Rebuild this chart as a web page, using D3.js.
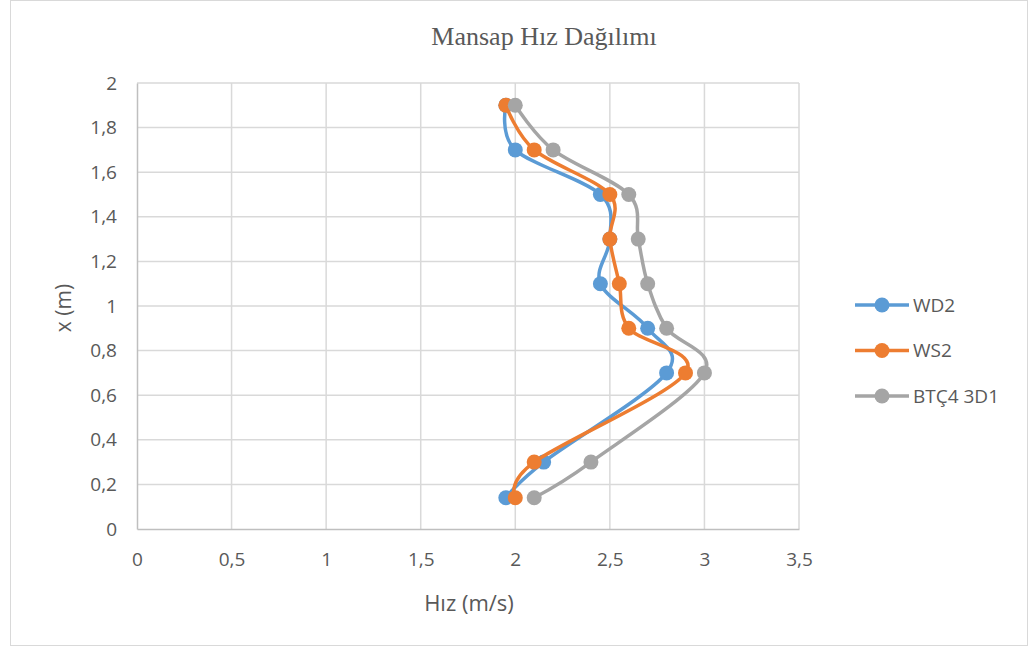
<!DOCTYPE html>
<html>
<head>
<meta charset="utf-8">
<script src="https://cdn.jsdelivr.net/npm/d3@7"></script>
<style>
  body { margin: 0; background: #fff; }
  svg text { fill: #595959; }
</style>
</head>
<body>
<svg class="chart" width="1028" height="647"></svg>
<script>
// values: height x (m) against speed (m/s)
const heights = [1.9, 1.7, 1.5, 1.3, 1.1, 0.9, 0.7, 0.3, 0.14]
const wd2 = [1.95, 2.0, 2.45, 2.5, 2.45, 2.7, 2.8, 2.15, 1.95]
const ws2 = [1.95, 2.1, 2.5, 2.5, 2.55, 2.6, 2.9, 2.1, 2.0]
const btc4 = [2.0, 2.2, 2.6, 2.65, 2.7, 2.8, 3.0, 2.4, 2.1]
const seriesNames = ['WD2', 'WS2', 'BTÇ4 3D1']
const colors = ['#5B9BD5', '#ED7D31', '#A5A5A5']
const xTicks = [0, 0.5, 1, 1.5, 2, 2.5, 3, 3.5]
const yTicks = [0, 0.2, 0.4, 0.6, 0.8, 1, 1.2, 1.4, 1.6, 1.8, 2]

const series = [wd2, ws2, btc4].map((vals, i) => ({
  name: seriesNames[i],
  color: colors[i],
  points: vals.map((v, j) => ({ x: v, y: heights[j] }))
}))

const svg = d3.select('.chart'),
  margin = { top: 83, right: 229, bottom: 118, left: 137 },
  width = 1028 - margin.left - margin.right,
  height = 647 - margin.top - margin.bottom

const fmt = d => String(d).replace('.', ',')

// outer frame
svg.append('rect')
  .attr('x', 10.5).attr('y', 0.5)
  .attr('width', 1017).attr('height', 645)
  .attr('fill', 'none')
  .attr('stroke', '#d9d9d9')

let x = d3.scaleLinear().domain([0, 3.5]).range([0, width]),
  y = d3.scaleLinear().domain([0, 2]).range([height, 0])

let g = svg.append('g')
  .attr('transform', 'translate(' + margin.left + ',' + margin.top + ')')

// grid
g.append('g')
  .selectAll('line')
  .data(yTicks.slice(1))
  .enter().append('line')
  .attr('x1', 0).attr('x2', width)
  .attr('y1', d => y(d)).attr('y2', d => y(d))
  .attr('stroke', '#d9d9d9').attr('stroke-width', 1.5)

g.append('g')
  .selectAll('line')
  .data(xTicks.slice(1))
  .enter().append('line')
  .attr('x1', d => x(d)).attr('x2', d => x(d))
  .attr('y1', 0).attr('y2', height)
  .attr('stroke', '#d9d9d9').attr('stroke-width', 1.5)

// axes
const xAxis = g.append('g')
  .attr('transform', 'translate(0,' + height + ')')
  .call(d3.axisBottom(x).tickValues(xTicks).tickFormat(fmt).tickSize(0).tickPadding(24))
xAxis.select('.domain').attr('stroke', '#bfbfbf').attr('stroke-width', 1.5)

const yAxis = g.append('g')
  .call(d3.axisLeft(y).tickValues(yTicks).tickFormat(fmt).tickSize(0).tickPadding(20))
yAxis.select('.domain').attr('stroke', '#bfbfbf').attr('stroke-width', 1.5)

svg.selectAll('.tick text')
  .style('font-family', '"Open Sans", sans-serif')
  .style('font-size', '19px')
  .attr('fill', '#595959')

// lines
const line = d3.line()
  .x(d => x(d.x))
  .y(d => y(d.y))
  .curve(d3.curveCatmullRom.alpha(0))

series.forEach(s => {
  g.append('path')
    .datum(s.points)
    .attr('fill', 'none')
    .attr('stroke', s.color)
    .attr('stroke-width', 3.5)
    .attr('stroke-linejoin', 'round')
    .attr('d', line)

  g.selectAll('.dot-' + s.name.replace(/\W/g, ''))
    .data(s.points)
    .enter().append('circle')
    .attr('cx', d => x(d.x))
    .attr('cy', d => y(d.y))
    .attr('r', 7.5)
    .attr('fill', s.color)
})

// title & axis titles
svg.append('text')
  .attr('x', 544).attr('y', 45)
  .attr('text-anchor', 'middle')
  .style('font-family', '"Liberation Serif", serif')
  .style('font-size', '26px')
  .text('Mansap Hız Dağılımı')

svg.append('text')
  .attr('x', 469).attr('y', 611)
  .attr('text-anchor', 'middle')
  .style('font-family', '"Open Sans", sans-serif')
  .style('font-size', '22px')
  .text('Hız (m/s)')

svg.append('text')
  .attr('transform', 'translate(71,308) rotate(-90)')
  .attr('text-anchor', 'middle')
  .style('font-family', '"Open Sans", sans-serif')
  .style('font-size', '21px')
  .text('x (m)')

// legend
const legend = svg.append('g')
  .selectAll('g')
  .data(series)
  .enter().append('g')
  .attr('transform', (d, i) => 'translate(855,' + (305 + i * 45.5) + ')')

legend.append('line')
  .attr('x1', 0).attr('x2', 54)
  .attr('stroke', d => d.color)
  .attr('stroke-width', 3.5)
legend.append('circle')
  .attr('cx', 27).attr('r', 7.5)
  .attr('fill', d => d.color)
legend.append('text')
  .attr('x', 58).attr('dy', '0.35em')
  .style('font-family', '"Open Sans", sans-serif')
  .style('font-size', '19px')
  .text(d => d.name)
</script>
</body>
</html>
